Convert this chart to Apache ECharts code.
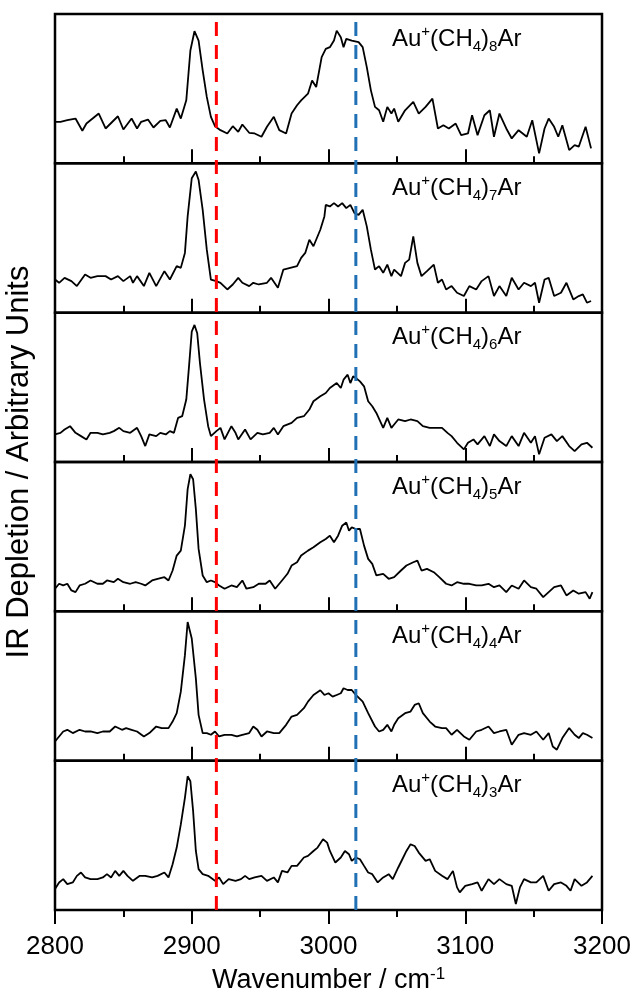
<!DOCTYPE html>
<html>
<head>
<meta charset="utf-8">
<script src="https://cdn.jsdelivr.net/npm/echarts/dist/echarts.min.js"></script>
<style>
  html, body { margin: 0; padding: 0; background: #fff; }
  #chart { width: 633px; height: 999px; }
</style>
</head>
<body>
<div id="chart"></div>
<script>
// n in Au+(CH4)nAr, top panel first
const clusterSizes = ['8', '7', '6', '5', '4', '3'];
// dashed guide lines (cm-1)
const guideRed = 2918;
const guideBlue = 3020;

// [wavenumber, depletion (arb.)]
const spec8 = [[2800,41.7],[2804,41.7],[2809,43.3],[2815,45],[2820,32.7],[2823,40],[2832,50],[2837,35],[2846,47.3],[2850,34],[2856,45],[2860,35],[2863,41.7],[2868,44],[2872,36],[2877,42.7],[2881,43.3],[2884,36],[2889,55],[2892,45],[2896,63.3],[2899,113.3],[2902,132.7],[2905,123.3],[2908,93.3],[2911,66.7],[2914,46.7],[2917,37.3],[2921,33.3],[2926,30],[2930,37.3],[2934,31.7],[2937,39],[2942,30.7],[2946,30],[2951,26.7],[2955,36.7],[2960,46.7],[2964,33.3],[2969,30],[2973,50],[2977,58.3],[2980,63.3],[2985,70],[2988,83.3],[2991,76.7],[2995,106.7],[2998,115],[3001,116.7],[3004,123.3],[3006,133.3],[3009,126.7],[3011,116.7],[3013,125],[3017,123.3],[3022,121.7],[3025,116.7],[3028,96.7],[3031,73.3],[3034,56.7],[3037,53.3],[3040,41.7],[3043,56.7],[3046,50],[3048,55],[3051,41.7],[3056,53.3],[3062,61.7],[3066,50],[3071,56.7],[3076,65],[3080,35],[3084,38.3],[3088,35],[3093,40],[3097,28.3],[3102,30],[3105,48.3],[3109,28.3],[3114,48.3],[3118,53.3],[3121,26.7],[3125,50],[3130,35],[3134,25],[3139,33.3],[3145,26.7],[3149,43.3],[3154,10],[3158,35],[3161,45],[3165,36.7],[3168,26.7],[3171,38.3],[3176,13.3],[3180,18.3],[3183,16.7],[3188,36.7],[3192,15]];
const spec7 = [[2800,33.3],[2803,30],[2807,35],[2812,31.7],[2816,26.7],[2822,38.3],[2826,35],[2831,36.7],[2837,36.7],[2841,33.3],[2846,36.7],[2850,31.7],[2855,36.7],[2857,30],[2860,36.7],[2865,26.7],[2869,40],[2874,26.7],[2880,41.7],[2884,33.3],[2889,46.7],[2892,45],[2895,60],[2897,96.7],[2900,135],[2903,141.7],[2905,133.3],[2908,103.3],[2911,63.3],[2914,33.3],[2918,31.7],[2921,30],[2926,23.3],[2930,28.3],[2934,35],[2937,30],[2942,26.7],[2945,30],[2949,28.3],[2955,30],[2958,35],[2963,25],[2967,43.3],[2972,45],[2977,46.7],[2980,55],[2983,60],[2986,73.3],[2989,66.7],[2994,83.3],[2997,96.7],[2998,108.3],[3001,106.7],[3004,110],[3007,106.7],[3010,110],[3013,105],[3016,108.3],[3019,100],[3022,98.3],[3025,103.3],[3028,86.7],[3031,63.3],[3034,43.3],[3037,46.7],[3040,40],[3043,48.3],[3046,36.7],[3048,43.3],[3053,36.7],[3056,50],[3059,53.3],[3062,76.7],[3065,50],[3068,36.7],[3072,41.7],[3077,48.3],[3080,30],[3083,33.3],[3086,23.3],[3090,26.7],[3094,20],[3099,16.7],[3103,26.7],[3108,23.3],[3112,31.7],[3117,36.7],[3121,16.7],[3125,26.7],[3130,16.7],[3134,35],[3139,23.3],[3143,30],[3148,26.7],[3151,30],[3154,10],[3158,33.3],[3161,35],[3165,16.7],[3170,20],[3174,30],[3179,13.3],[3183,16.7],[3186,18.3],[3189,10],[3192,11.7]];
const spec6 = [[2800,27.7],[2804,29.3],[2807,32.7],[2811,36],[2815,29.3],[2819,26],[2823,22.7],[2826,29.3],[2831,29.3],[2835,27.7],[2840,29.3],[2843,31],[2847,34.3],[2850,31],[2855,29.3],[2860,34.3],[2863,26],[2866,16],[2869,27.7],[2874,26],[2877,29.3],[2881,27.7],[2884,31],[2887,29.3],[2890,44.3],[2893,46],[2896,62.7],[2898,96],[2900,131],[2902,137.7],[2904,129.3],[2906,99.3],[2909,62.7],[2912,36],[2914,26],[2918,31],[2921,34.3],[2924,22.7],[2929,36],[2932,29.3],[2934,22.7],[2939,32.7],[2943,22.7],[2948,29.3],[2952,27.7],[2957,29.3],[2960,34.3],[2963,27.7],[2967,36],[2973,39.3],[2977,44.3],[2982,46],[2986,52.7],[2989,61],[2994,66],[2998,69.3],[3001,74.3],[3006,79.3],[3009,74.3],[3011,82.7],[3014,87.7],[3016,79.3],[3018,86],[3020,84.3],[3023,81],[3026,76],[3029,61],[3032,56],[3035,49.3],[3040,34.3],[3043,44.3],[3046,34.3],[3048,37.7],[3051,42.7],[3056,41],[3060,42.7],[3065,41],[3069,36],[3074,34.3],[3078,34.3],[3083,34.3],[3087,29.3],[3090,26],[3094,19.3],[3099,12.7],[3102,19.3],[3106,22.7],[3109,17.7],[3114,26],[3118,16],[3121,27.7],[3125,21],[3130,16],[3134,26],[3139,16],[3143,29.3],[3148,19.3],[3151,26],[3154,7.7],[3158,24.3],[3163,27.7],[3167,21],[3171,26],[3176,16],[3180,11],[3185,17.7],[3189,19.3],[3193,14.3]];
const spec5 = [[2800,22.7],[2803,27.7],[2806,26],[2809,27.7],[2812,21],[2815,19.3],[2818,26],[2822,27.7],[2826,31],[2831,27.7],[2835,27.7],[2838,31],[2843,29.3],[2846,32.7],[2850,29.3],[2855,27.7],[2859,29.3],[2863,27.7],[2866,26],[2871,31],[2875,32.7],[2880,34.3],[2883,31],[2886,41],[2889,56],[2892,61],[2895,86],[2897,122.7],[2899,137.7],[2901,132.7],[2903,102.7],[2905,62.7],[2908,36],[2911,29.3],[2914,31],[2917,29.3],[2920,26],[2924,22.7],[2929,26],[2933,24.3],[2937,31],[2940,22.7],[2945,24.3],[2949,27.7],[2954,27.7],[2957,31],[2961,22.7],[2966,31],[2970,37.7],[2973,46],[2977,49.3],[2980,56],[2985,61],[2989,64.3],[2994,69.3],[2998,72.7],[3001,76],[3004,69.3],[3007,76],[3010,86],[3013,89.3],[3015,81],[3017,84.3],[3020,82.7],[3023,82.7],[3026,66],[3029,52.7],[3032,47.7],[3035,36],[3040,37.7],[3044,32.7],[3048,34.3],[3053,41],[3057,46],[3062,49.3],[3065,51],[3068,41],[3072,42.7],[3077,39.3],[3081,34.3],[3086,27.7],[3090,26],[3094,29.3],[3099,27.7],[3103,27.7],[3108,26],[3112,26],[3117,27.7],[3121,24.3],[3125,26],[3130,19.3],[3134,26],[3139,22.7],[3143,31],[3148,24.3],[3152,22.7],[3157,14.3],[3161,19.3],[3165,24.3],[3170,26],[3174,16],[3179,21],[3183,17.7],[3188,19.3],[3191,12.7],[3193,19.3]];
const spec4 = [[2800,19.3],[2803,24.3],[2806,29.3],[2809,31],[2813,27.7],[2818,31],[2822,29.3],[2826,29.3],[2831,27.7],[2835,29.3],[2840,29.3],[2844,34.3],[2849,31],[2852,32.7],[2856,31],[2860,29.3],[2865,24.3],[2869,27.7],[2874,34.3],[2878,32.7],[2883,32.7],[2886,39.3],[2889,47.7],[2892,69.3],[2895,106],[2897,139.3],[2898,141],[2900,122.7],[2903,82.7],[2905,46],[2908,27.7],[2911,27.7],[2914,26],[2917,29.3],[2920,24.3],[2924,26],[2929,26],[2933,24.3],[2937,26],[2942,27.7],[2945,34.3],[2948,31],[2951,24.3],[2955,29.3],[2960,27.7],[2964,27.7],[2969,36],[2973,44.3],[2977,46],[2982,52.7],[2985,59.3],[2989,66],[2994,70.7],[2997,66],[3000,67.7],[3003,64.3],[3006,66],[3009,67.7],[3011,72.7],[3014,71],[3017,71],[3020,66],[3025,59.3],[3029,47.7],[3034,34.3],[3037,29.3],[3040,31],[3043,36],[3046,29.3],[3048,36],[3051,42.7],[3056,47.7],[3060,49.3],[3063,56],[3066,57.7],[3069,47.7],[3074,39.3],[3078,34.3],[3083,32.7],[3086,32.7],[3090,26],[3094,31],[3099,24.3],[3103,21],[3108,29.3],[3112,31],[3117,34.3],[3121,27.7],[3125,29.3],[3130,31],[3134,16],[3139,26],[3143,27.7],[3148,26],[3152,29.3],[3157,21],[3161,27.7],[3164,14.3],[3167,11],[3171,22.7],[3176,32.7],[3180,26],[3183,22.7],[3186,27.7],[3189,26],[3193,22.7]];
const spec3 = [[2800,21],[2803,27.7],[2806,31],[2809,26],[2813,27.7],[2816,34.3],[2819,37.7],[2822,32.7],[2826,31],[2831,31],[2835,32.7],[2838,36],[2841,32.7],[2844,39.3],[2847,34.3],[2850,39.3],[2853,34.3],[2857,29.3],[2862,34.3],[2866,34.3],[2871,32.7],[2875,34.3],[2880,37.7],[2883,32.7],[2886,46],[2889,62.7],[2892,86],[2895,112.7],[2897,134.3],[2899,129.3],[2901,99.3],[2903,59.3],[2905,41],[2908,36],[2912,34.3],[2917,29.3],[2920,32.7],[2923,26],[2927,31],[2932,29.3],[2936,31],[2939,34.3],[2942,31],[2946,32.7],[2951,34.3],[2955,29.3],[2960,32.7],[2963,27.7],[2966,39.3],[2970,37.7],[2973,44.3],[2977,44.3],[2982,52.7],[2985,54.3],[2989,59.3],[2992,62.7],[2996,71],[2999,67.7],[3001,59.3],[3005,47.7],[3009,52.7],[3012,59.3],[3015,56],[3017,49.3],[3020,52.7],[3023,51],[3026,44.3],[3029,37.7],[3032,36],[3036,27.7],[3040,32.7],[3044,36],[3047,31],[3051,42.7],[3054,51],[3057,59.3],[3060,66],[3063,64.3],[3066,57.7],[3071,49.3],[3074,51],[3078,39.3],[3083,34.3],[3087,31],[3091,39.3],[3094,22.7],[3096,17.7],[3100,24.3],[3105,26],[3109,27.7],[3112,19.3],[3117,31],[3121,26],[3125,31],[3130,26],[3134,24.3],[3137,6],[3140,22.7],[3143,31],[3148,27.7],[3152,27.7],[3157,34.3],[3161,19.3],[3165,26],[3170,27.7],[3174,24.3],[3177,19.3],[3180,31],[3185,24.3],[3189,27.7],[3193,34.3]];
const spectra = [spec8, spec7, spec6, spec5, spec4, spec3];

const FONT = '"Liberation Sans", Arial, sans-serif';
const chart = echarts.init(document.getElementById('chart'));

const plotTop = 14, plotBottom = 910, plotLeft = 55, plotRight = 602;
const panelH = (plotBottom - plotTop) / spectra.length;

const grids = [], xAxes = [], yAxes = [], series = [], titles = [];
spectra.forEach((data, i) => {
  const last = i === spectra.length - 1;
  const top = plotTop + i * panelH;
  grids.push({
    left: plotLeft, width: plotRight - plotLeft, top: top, height: panelH,
    outerBoundsMode: 'none', containLabel: false,
    show: true, borderColor: '#000', borderWidth: 2.5, backgroundColor: 'transparent'
  });
  xAxes.push({
    gridIndex: i, type: 'value', min: 2800, max: 3200, interval: 100,
    axisLine: {show: false},
    axisTick: {show: true, inside: !last, length: 14, lineStyle: {color: '#000', width: 2}},
    minorTick: {show: true, splitNumber: 2, length: 7, lineStyle: {color: '#000', width: 2}},
    splitLine: {show: false},
    axisLabel: {
      show: last, color: '#000', fontSize: 26, fontFamily: FONT, margin: 24,
      formatter: v => String(v)
    },
    name: last ? '{a|Wavenumber / cm}{s|-1}' : '',
    nameLocation: 'middle', nameGap: 56,
    nameTextStyle: {
      color: '#000', fontFamily: FONT,
      rich: {
        a: {fontSize: 27, fontFamily: FONT, color: '#000', lineHeight: 30},
        s: {fontSize: 17, fontFamily: FONT, color: '#000', lineHeight: 14, verticalAlign: 'top'}
      }
    }
  });
  yAxes.push({
    gridIndex: i, type: 'value', min: 0, max: 150, show: false
  });
  series.push({
    type: 'line', xAxisIndex: i, yAxisIndex: i, data: data,
    showSymbol: false, symbol: 'none', smooth: false,
    lineStyle: {color: '#000', width: 1.8}, silent: true, z: 3
  });
  titles.push({
    text: '{n|Au}{p|+}{n|(CH}{b|4}{n|)}{b|' + clusterSizes[i] + '}{n|Ar}',
    left: 392, top: top + 10, padding: 0,
    textStyle: {
      fontWeight: 'normal',
      rich: {
        n: {fontSize: 24, fontFamily: FONT, fontWeight: 'normal', color: '#000', lineHeight: 30},
        p: {fontSize: 15, fontFamily: FONT, fontWeight: 'normal', color: '#000', lineHeight: 15, verticalAlign: 'top'},
        b: {fontSize: 15, fontFamily: FONT, fontWeight: 'normal', color: '#000', lineHeight: 15, verticalAlign: 'bottom'}
      }
    }
  });
});

// overlay grid spanning all panels: guide lines + y title
const ov = spectra.length;
grids.push({
  left: plotLeft, width: plotRight - plotLeft, top: plotTop, height: plotBottom - plotTop,
  outerBoundsMode: 'none', containLabel: false
});
xAxes.push({gridIndex: ov, type: 'value', min: 2800, max: 3200, show: false});
yAxes.push({
  gridIndex: ov, type: 'value', min: 0, max: 1, show: true,
  axisLine: {show: false}, axisTick: {show: false}, axisLabel: {show: false}, splitLine: {show: false},
  name: 'IR Depletion / Arbitrary Units', nameLocation: 'middle', nameGap: 20,
  nameTextStyle: {color: '#000', fontSize: 31, fontFamily: FONT}
});
[[guideRed, '#ff0000'], [guideBlue, '#1f70b5']].forEach(([x, c]) => {
  series.push({
    type: 'line', xAxisIndex: ov, yAxisIndex: ov,
    data: [[x, 0], [x, 1]], showSymbol: false, symbol: 'none', silent: true, z: 5,
    lineStyle: {color: c, width: 3, type: [14, 9]}
  });
});

chart.setOption({
  animation: false,
  backgroundColor: '#fff',
  title: titles,
  grid: grids,
  xAxis: xAxes,
  yAxis: yAxes,
  series: series
});
</script>
</body>
</html>
